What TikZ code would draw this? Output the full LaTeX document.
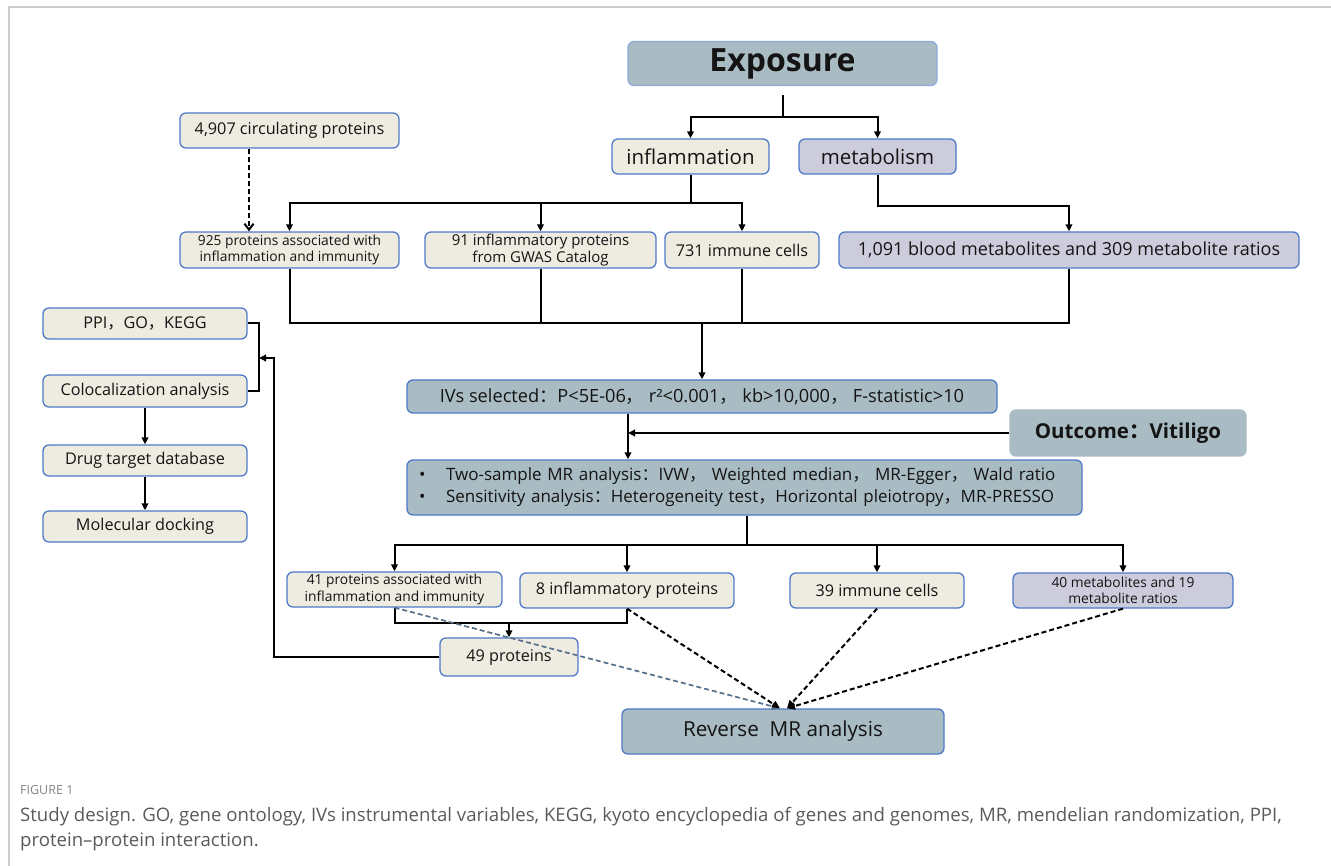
\documentclass[tikz,border=0pt]{standalone}
\usepackage{fontspec}
\setmainfont{Open Sans}
\newfontfamily\cjkf{Noto Sans CJK SC}
\usetikzlibrary{arrows.meta}
\definecolor{beige}{HTML}{EEECE1}
\definecolor{lav}{HTML}{CCCCDC}
\definecolor{bgray}{HTML}{A9BCC3}
\definecolor{bord}{HTML}{4F7AC7}
\definecolor{lbord}{HTML}{8EAADB}
\definecolor{framegray}{HTML}{CCCCCC}
\definecolor{capgray}{HTML}{5A5A5A}
\definecolor{dashblue}{HTML}{56708C}
\definecolor{ink}{HTML}{141414}
\newcommand\zcolon{{\cjkf ：}}
\newcommand\zcomma{{\cjkf ，}}
\begin{document}
\begin{tikzpicture}[x=1pt,y=-1pt,
  box/.style={draw=bord, line width=1.3pt, rounded corners=6pt, inner sep=0pt,
    align=center, text=ink, font=\fontsize{16.2}{19}\selectfont},
  bbox/.style={box, fill=beige},
  lbox/.style={box, fill=lav},
  gbox/.style={box, fill=bgray},
  small/.style={font=\fontsize{13.8}{16.5}\selectfont},
  conn/.style={line width=2pt, draw=black},
  arr/.style={conn, -{Triangle[length=7pt,width=6.5pt]}},
  darr/.style={conn, dash pattern=on 5pt off 3pt, -{Triangle[length=8pt,width=7pt]}},
  oarr/.style={conn, dash pattern=on 5pt off 3pt, -{Straight Barb[length=6pt,width=9pt]}},
  captext/.style={anchor=base west, inner sep=0pt, text=capgray, font=\fontsize{18.6}{22}\selectfont},
]
\useasboundingbox (0,0) rectangle (1331,866);
\draw[framegray, line width=2pt] (9,866) -- (9,7) -- (1331,7);

% top
\node[gbox, draw=lbord, minimum width=309pt, minimum height=44pt,
  font=\fontsize{32}{38}\bfseries] (expo) at (782.5,63.5) {Exposure};
\node[bbox, minimum width=157pt, minimum height=35pt, font=\fontsize{20.5}{24}\selectfont] (infl) at (690.5,156.5) {inflammation};
\node[lbox, minimum width=157pt, minimum height=35pt, font=\fontsize{20.5}{24}\selectfont] (meta) at (877.5,156.5) {metabolism};
\node[bbox, minimum width=219pt, minimum height=35pt] (circ) at (289.5,130.5) {4,907 circulating proteins};

\node[bbox, small, minimum width=219pt, minimum height=36pt] (p925) at (289.5,250) {925 proteins associated with\\inflammation and immunity};
\node[bbox, font=\fontsize{15}{17.5}\selectfont, minimum width=231pt, minimum height=36pt] (p91) at (540.5,250) {91 inflammatory proteins\\from GWAS Catalog};
\node[bbox, minimum width=154pt, minimum height=36pt] (i731) at (742,250) {731 immune cells};
\node[lbox, font=\fontsize{18}{21}\selectfont, minimum width=460pt, minimum height=36pt] (m1091) at (1069,250) {1,091 blood metabolites and 309 metabolite ratios};

% left column
\node[bbox, minimum width=204pt, minimum height=31pt] (ppi) at (145,323.5) {PPI\zcomma GO\zcomma KEGG};
\node[bbox, minimum width=204pt, minimum height=32pt] (coloc) at (145,391) {Colocalization analysis};
\node[bbox, minimum width=204pt, minimum height=31pt] (drug) at (145,460.5) {Drug target database};
\node[bbox, minimum width=204pt, minimum height=31pt] (mol) at (145,526.5) {Molecular docking};

% middle
\node[gbox, minimum width=590pt, minimum height=33pt, font=\fontsize{18.2}{21}\selectfont] (ivs) at (702,396.5)
  {IVs selected\zcolon P<5E-06\zcomma\ r²<0.001\zcomma\ kb>10,000\zcomma\ F-statistic>10};
\node[gbox, draw=bgray, minimum width=236pt, minimum height=46pt, font=\fontsize{20.5}{24}\bfseries] (outc) at (1128,433)
  {Outcome\zcolon Vitiligo};
\node[gbox, minimum width=675pt, minimum height=55pt, text width=655pt, align=left,
  font=\fontsize{17}{22}\selectfont] (mr) at (744.5,487.5)
  {\makebox[29pt][l]{\hspace{2pt}•}Two-sample MR analysis\zcolon IVW\zcomma\ Weighted median\zcomma\ MR-Egger\zcomma\ Wald ratio\\
   \makebox[29pt][l]{\hspace{2pt}•}Sensitivity analysis\zcolon Heterogeneity test\zcomma Horizontal pleiotropy\zcomma MR-PRESSO};

% results
\node[bbox, small, minimum width=215pt, minimum height=35pt] (p41) at (394.5,589.5) {41 proteins associated with\\inflammation and immunity};
\node[bbox, minimum width=214pt, minimum height=35pt] (p8) at (627,590.5) {8 inflammatory proteins};
\node[bbox, minimum width=174pt, minimum height=35pt] (i39) at (877,590.5) {39 immune cells};
\node[lbox, small, minimum width=220pt, minimum height=35pt] (m40) at (1123,590.5) {40 metabolites and 19\\metabolite ratios};
\node[bbox, minimum width=138pt, minimum height=38pt] (p49) at (509,657) {49 proteins};
\node[gbox, minimum width=322pt, minimum height=45pt, font=\fontsize{20.7}{24}\selectfont] (rev) at (783,731.5) {Reverse\ \ MR analysis};

% coordinates
\coordinate (j1) at (782.5,117);
\coordinate (j2) at (690.5,203);
\coordinate (j3) at (702,323);
\coordinate (j4) at (747,545);
\coordinate (j5) at (509,623);
\coordinate (j6) at (274,358);
\coordinate (br) at (259,358);
\coordinate (jv) at (628,433);

% connectors top
\draw[conn] ([yshift=-9pt]expo.south) -- (j1);
\draw[arr] (j1) -| (infl.north);
\draw[arr] (j1) -| (meta.north);
\draw[oarr] ([xshift=-40.5pt]circ.south) -- ([xshift=-40.5pt]p925.north);
\draw[conn] (infl.south) -- (j2);
\draw[arr] (j2) -| (p925.north);
\draw[arr] (j2) -| (p91.north);
\draw[arr] (j2) -| (i731.north);
\draw[arr] (meta.south) -- ++(0,31) -| (m1091.north);

% merge
\draw[conn] (p925.south) -- (p925.south |- j3) -- (m1091.south |- j3) -- (m1091.south);
\draw[conn] (p91.south) -- (p91.south |- j3);
\draw[conn] (i731.south) -- (i731.south |- j3);
\draw[arr] (j3) -- (ivs.north);
\draw[arr] (ivs.south -| jv) -- (mr.north -| jv);
\draw[arr] (outc.west) -- (jv);

% split
\draw[conn] (mr.south -| j4) -- (j4);
\draw[arr] (j4) -| (p41.north);
\draw[arr] (j4) -| (p8.north);
\draw[arr] (j4) -| (i39.north);
\draw[arr] (j4) -| (m40.north);

% 49 proteins
\draw[conn] (p41.south) |- (j5) -| (p8.south);
\draw[arr] (j5) -- (p49.north);
\draw[arr] (p49.west) -| (j6) -- (br);
\draw[conn] (ppi.east) -- ++(11,0) |- (coloc.east);
\draw[arr] (coloc.south) -- (drug.north);
\draw[arr] (drug.south) -- (mol.north);

% reverse
\draw[darr, draw=dashblue, line width=1.7pt] (p41.south) -- ([xshift=-3pt]rev.north);
\draw[darr] (p8.south) -- ([xshift=-3pt]rev.north);
\draw[darr] (i39.south) -- ([xshift=4pt]rev.north);
\draw[darr] (m40.south) -- ([xshift=4pt]rev.north);

% caption
\node[anchor=west, inner sep=0pt, text=capgray!75, font=\fontsize{12.5}{14}\selectfont] (figlab) at (20,790) {FIGURE 1};
\node[captext] (cap1) at (20,821)
  {Study design. GO, gene ontology, IVs instrumental variables, KEGG, kyoto encyclopedia of genes and genomes, MR, mendelian randomization, PPI,};
\node[captext] (cap2) at (20,846) {protein–protein interaction.};
\end{tikzpicture}
\end{document}
